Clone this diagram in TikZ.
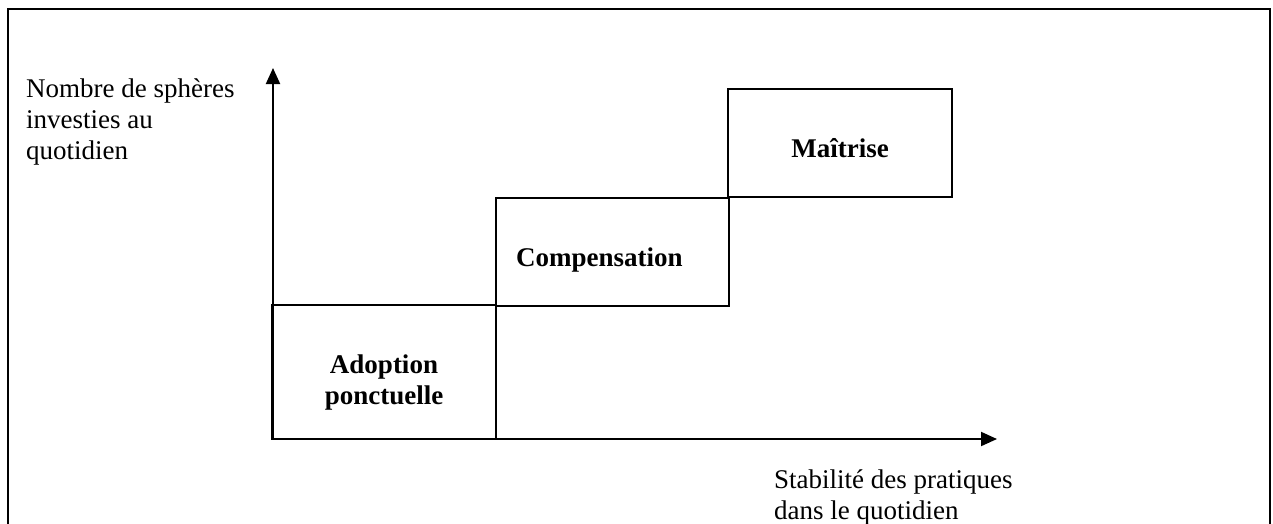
\documentclass[tikz,border=0pt]{standalone}
\usepackage{fontspec}
\setmainfont{Liberation Serif}
\usetikzlibrary{arrows.meta}
\tikzset{
  lbl/.style={inner sep=0pt, align=left, font=\fontsize{27}{31}\selectfont},
  blbl/.style={inner sep=0pt, align=center, font=\fontsize{27}{31}\selectfont\bfseries},
  stage/.style={draw, line width=2pt, inner sep=0pt},
  axis/.style={line width=2pt, -{Triangle[length=16pt,width=14pt]}},
}
\begin{document}
\begin{tikzpicture}[x=1pt,y=-1pt]
\useasboundingbox (0,0) rectangle (1273,523);
\clip (0,0) rectangle (1273,523);
\fill[white] (0,0) rectangle (1273,523);
% frame (bottom edge outside the picture)
\draw[line width=2.2pt] (8,540) -- (8,9) -- (1270,9) -- (1270,540);
% stage boxes
\node[stage, minimum width=224pt, minimum height=134pt] (adop) at (384,372) {};
\node[stage, minimum width=233pt, minimum height=108pt] (comp) at (612.5,252) {};
\node[stage, minimum width=224pt, minimum height=108pt] (mait) at (840,143) {};
% axes
\coordinate (O) at (273,439);
\coordinate (ytip) at (273,68);
\coordinate (xtip) at (997,439);
\draw[axis] (O) -- (ytip);
\draw[axis] (O) -- (xtip);
% labels (base anchor = baseline of the last line)
\node[blbl, anchor=base] (adopT) at (384,404) {Adoption\\ponctuelle};
\node[blbl, anchor=base west] (compT) at (516,266) {Compensation};
\node[blbl, anchor=base] (maitT) at (840,157) {Maîtrise};
\node[lbl, anchor=base west] (ylab) at (26,159) {Nombre de sphères\\investies au\\quotidien};
\node[lbl, anchor=base west] (xlab) at (774,519) {Stabilité des pratiques\\dans le quotidien};
\end{tikzpicture}
\end{document}
